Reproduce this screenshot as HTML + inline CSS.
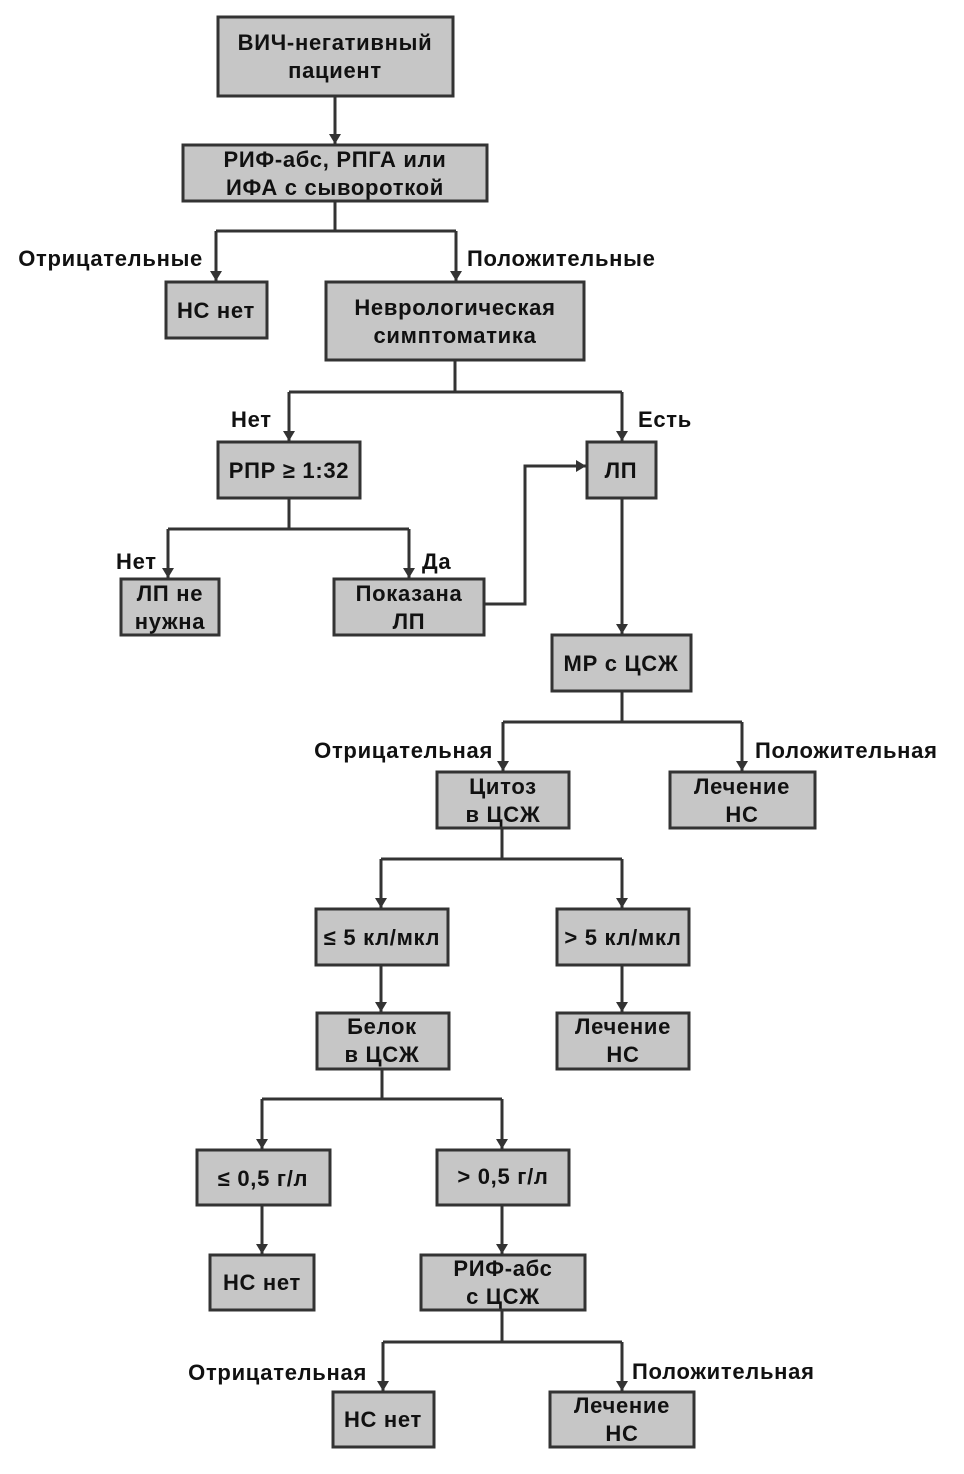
<!DOCTYPE html>
<html><head><meta charset="utf-8"><style>
html,body{margin:0;padding:0;background:#fff;width:964px;height:1474px;overflow:hidden}
text{font-family:"Liberation Sans",Arial,sans-serif;font-weight:bold;font-size:22px;letter-spacing:0.7px;fill:#111}
</style></head><body>
<svg width="964" height="1474" viewBox="0 0 964 1474" xmlns="http://www.w3.org/2000/svg">
<defs><marker id="a" viewBox="0 0 10 12" refX="10" refY="6" markerWidth="10" markerHeight="12" markerUnits="userSpaceOnUse" orient="auto"><path d="M0,0 L10,6 L0,12 z" fill="#333"/></marker></defs>
<g fill="#c6c6c6" stroke="#333" stroke-width="3">
<rect x="218" y="17" width="235" height="79"/>
<rect x="183" y="145" width="304" height="56"/>
<rect x="166" y="282" width="101" height="56"/>
<rect x="326" y="282" width="258" height="78"/>
<rect x="218" y="442" width="142" height="56"/>
<rect x="587" y="442" width="69" height="56"/>
<rect x="121" y="579" width="98" height="56"/>
<rect x="334" y="579" width="150" height="56"/>
<rect x="552" y="635" width="139" height="56"/>
<rect x="437" y="772" width="132" height="56"/>
<rect x="670" y="772" width="145" height="56"/>
<rect x="316" y="909" width="132" height="56"/>
<rect x="557" y="909" width="132" height="56"/>
<rect x="317" y="1013" width="132" height="56"/>
<rect x="557" y="1013" width="132" height="56"/>
<rect x="197" y="1150" width="133" height="55"/>
<rect x="437" y="1150" width="132" height="55"/>
<rect x="210" y="1255" width="104" height="55"/>
<rect x="421" y="1255" width="164" height="55"/>
<rect x="333" y="1392" width="101" height="55"/>
<rect x="550" y="1392" width="144" height="55"/>
</g>
<g stroke="#333" stroke-width="3" fill="none">
<path d="M335 96V144" marker-end="url(#a)"/>
<path d="M335 201V231M216 231H456"/>
<path d="M216 231V281" marker-end="url(#a)"/>
<path d="M456 231V281" marker-end="url(#a)"/>
<path d="M455 360V392M289 392H622"/>
<path d="M289 392V441" marker-end="url(#a)"/>
<path d="M622 392V441" marker-end="url(#a)"/>
<path d="M289 498V529M168 529H409"/>
<path d="M168 529V578" marker-end="url(#a)"/>
<path d="M409 529V578" marker-end="url(#a)"/>
<path d="M484 604H525V466H586" marker-end="url(#a)"/>
<path d="M622 498V634" marker-end="url(#a)"/>
<path d="M622 691V722M503 722H742"/>
<path d="M503 722V771" marker-end="url(#a)"/>
<path d="M742 722V771" marker-end="url(#a)"/>
<path d="M502 828V859M381 859H622"/>
<path d="M381 859V908" marker-end="url(#a)"/>
<path d="M622 859V908" marker-end="url(#a)"/>
<path d="M381 965V1012" marker-end="url(#a)"/>
<path d="M622 965V1012" marker-end="url(#a)"/>
<path d="M382 1069V1099M262 1099H502"/>
<path d="M262 1099V1149" marker-end="url(#a)"/>
<path d="M502 1099V1149" marker-end="url(#a)"/>
<path d="M262 1205V1254" marker-end="url(#a)"/>
<path d="M502 1205V1254" marker-end="url(#a)"/>
<path d="M502 1310V1342M383 1342H622"/>
<path d="M383 1342V1391" marker-end="url(#a)"/>
<path d="M622 1342V1391" marker-end="url(#a)"/>
</g>
<g text-anchor="middle">
<text x="335" y="50">ВИЧ-негативный</text><text x="335" y="78">пациент</text>
<text x="335" y="167">РИФ-абс, РПГА или</text><text x="335" y="195">ИФА с сывороткой</text>
<text x="216" y="318">НС нет</text>
<text x="455" y="315">Неврологическая</text><text x="455" y="343">симптоматика</text>
<text x="289" y="478">РПР ≥ 1:32</text>
<text x="621" y="478">ЛП</text>
<text x="170" y="601">ЛП не</text><text x="170" y="629">нужна</text>
<text x="409" y="601">Показана</text><text x="409" y="629">ЛП</text>
<text x="621" y="671">МР с ЦСЖ</text>
<text x="503" y="794">Цитоз</text><text x="503" y="822">в ЦСЖ</text>
<text x="742" y="794">Лечение</text><text x="742" y="822">НС</text>
<text x="382" y="945">≤ 5 кл/мкл</text>
<text x="623" y="945">&gt; 5 кл/мкл</text>
<text x="382" y="1034">Белок</text><text x="382" y="1062">в ЦСЖ</text>
<text x="623" y="1034">Лечение</text><text x="623" y="1062">НС</text>
<text x="263" y="1186">≤ 0,5 г/л</text>
<text x="503" y="1184">&gt; 0,5 г/л</text>
<text x="262" y="1290">НС нет</text>
<text x="503" y="1276">РИФ-абс</text><text x="503" y="1304">с ЦСЖ</text>
<text x="383" y="1427">НС нет</text>
<text x="622" y="1413">Лечение</text><text x="622" y="1441">НС</text>
</g>
<g>
<text x="203" y="266" text-anchor="end">Отрицательные</text>
<text x="467" y="266">Положительные</text>
<text x="231" y="427">Нет</text>
<text x="638" y="427">Есть</text>
<text x="116" y="569">Нет</text>
<text x="422" y="569">Да</text>
<text x="493" y="758" text-anchor="end">Отрицательная</text>
<text x="755" y="758">Положительная</text>
<text x="367" y="1380" text-anchor="end">Отрицательная</text>
<text x="632" y="1379">Положительная</text>
</g>
</svg>
</body></html>
